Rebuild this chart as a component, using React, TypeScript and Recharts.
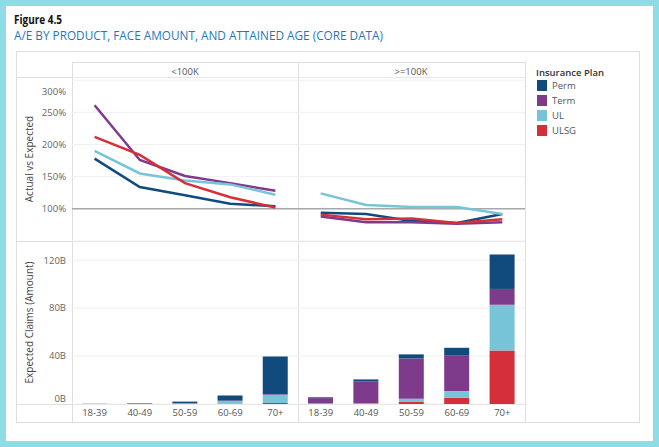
import React from 'react';
import { LineChart, Line, BarChart, Bar, XAxis, YAxis, CartesianGrid, ReferenceLine } from 'recharts';

// ---------- data ----------
const ageBands = ['18-39', '40-49', '50-59', '60-69', '70+'];
const plans = ['Perm', 'Term', 'UL', 'ULSG'];
const planColors = ['#114a7c', '#7f3b8b', '#77c4d8', '#d52f39'];
const faceGroups = ['<100K', '>=100K'];

// A/E ratio (%), face amount < 100K
const aePermLow = [178, 134, 121, 108, 104];
const aeTermLow = [261, 176, 151, 140, 128];
const aeULLow = [190, 155, 144, 138, 122];
const aeULSGLow = [212, 184, 140, 118, 102];

// A/E ratio (%), face amount >= 100K
const aePermHigh = [94, 92, 81, 78, 92];
const aeTermHigh = [88, 79, 79, 77, 79];
const aeULHigh = [124, 106, 103, 103, 92];
const aeULSGHigh = [91, 84, 85, 78, 84];

// Expected claims (billions), face amount < 100K
const ecPermLow = [0.05, 0.2, 1.2, 4.2, 31.5];
const ecTermLow = [0.05, 0.3, 0.3, 0.4, 0.4];
const ecULLow = [0.05, 0.2, 0.4, 2.2, 7.0];
const ecULSGLow = [0.05, 0.05, 0.1, 0.3, 0.8];

// Expected claims (billions), face amount >= 100K
const ecPermHigh = [0.7, 1.7, 3.4, 6.3, 28.7];
const ecTermHigh = [4.4, 18.0, 33.6, 29.8, 13.2];
const ecULHigh = [0.4, 0.3, 2.7, 5.5, 38.1];
const ecULSGHigh = [0.1, 0.5, 1.7, 5.3, 44.7];

const aeTicks = [50, 100, 150, 200, 250, 300];
const ecTicks = [0, 40, 80, 120];

// ---------- tables ----------
const buildTable = (series: number[][]) =>
  ageBands.map((age, i) => {
    const row: Record<string, any> = { age };
    plans.forEach((p, k) => {
      row[p] = series[k][i];
    });
    return row;
  });

const aeLow = buildTable([aePermLow, aeTermLow, aeULLow, aeULSGLow]);
const aeHigh = buildTable([aePermHigh, aeTermHigh, aeULHigh, aeULSGHigh]);
const ecLow = buildTable([ecPermLow, ecTermLow, ecULLow, ecULSGLow]);
const ecHigh = buildTable([ecPermHigh, ecTermHigh, ecULHigh, ecULSGHigh]);

const FONT = '"Open Sans", "Noto Sans", sans-serif';
const TICK_COLOR = '#666';
const GRID = '#f0f0f0';
const FRAME = '#dedede';

const makeYTick = (fmt: (v: number) => string, nudge: Record<number, number>) => (props: any) => {
  const { x, y, payload } = props;
  const n = nudge[payload.value] ?? 0;
  return (
    <text x={x} y={y + n} dy="0.35em" textAnchor="end" fontSize={9.5} fill={TICK_COLOR} fontFamily={FONT}>
      {fmt(payload.value)}
    </text>
  );
};

const aeTick = makeYTick((v) => `${v}%`, { 300: 6, 50: -5 });
const ecTick = makeYTick((v) => `${v}B`, { 0: -5 });

const axisTitleStyle = { fontSize: 10, fill: '#444', fontFamily: FONT };

const LinePanel = ({ data, showAxis, width }: { data: any[]; showAxis: boolean; width: number }) => {
  const plotW = width - (showAxis ? 56 : 0);
  const pad = plotW / (ageBands.length * 2);
  return (
    <LineChart width={width} height={164} data={data} margin={{ top: 0, right: 0, bottom: 0, left: 0 }}>
      <CartesianGrid vertical={false} stroke={GRID} />
      <XAxis dataKey="age" hide padding={{ left: pad, right: pad }} />
      <YAxis
        domain={[50, 305]}
        ticks={aeTicks}
        allowDataOverflow
        hide={!showAxis}
        width={56}
        axisLine={false}
        tickLine={false}
        tickSize={0}
        tickMargin={6}
        tick={aeTick}
        label={showAxis ? { value: 'Actual vs Expected', angle: -90, position: 'center', dx: -15, style: axisTitleStyle } : undefined}
      />
      <ReferenceLine y={100} stroke="#a8a8a8" strokeWidth={1.5} />
      {plans.map((p, k) => (
        <Line
          key={p}
          dataKey={p}
          type="linear"
          stroke={planColors[k]}
          strokeWidth={2.5}
          dot={false}
          activeDot={false}
          isAnimationActive={false}
        />
      ))}
    </LineChart>
  );
};

const stackOrder = [3, 2, 1, 0]; // ULSG at bottom, Perm on top

const BarPanel = ({ data, showAxis, width }: { data: any[]; showAxis: boolean; width: number }) => (
  <BarChart width={width} height={181} data={data} margin={{ top: 0, right: 0, bottom: 0, left: 0 }} barCategoryGap="22%">
    <CartesianGrid vertical={false} stroke={GRID} />
    <XAxis
      dataKey="age"
      height={18}
      interval={0}
      axisLine={false}
      tickLine={false}
      tickSize={0}
      tickMargin={5}
      tick={{ fontSize: 9.5, fill: '#555', fontFamily: FONT }}
    />
    <YAxis
      domain={[0, 136]}
      ticks={ecTicks}
      allowDataOverflow
      hide={!showAxis}
      width={56}
      axisLine={false}
      tickLine={false}
      tickSize={0}
      tickMargin={6}
      tick={ecTick}
      label={showAxis ? { value: 'Expected Claims (Amount)', angle: -90, position: 'center', dx: -15, style: axisTitleStyle } : undefined}
    />
    {stackOrder.map((k) => (
      <Bar key={plans[k]} dataKey={plans[k]} stackId="claims" fill={planColors[k]} isAnimationActive={false} />
    ))}
  </BarChart>
);

const abs = (left: number, top: number): React.CSSProperties => ({ position: 'absolute', left, top });

export default function App() {
  return (
    <div style={{ position: 'absolute', left: 0, top: 0, width: 659, height: 447, background: '#8edce5', fontFamily: FONT, overflow: 'hidden' }}>
      <div style={{ position: 'absolute', left: 6, top: 6, width: 647, height: 435, background: '#ffffff' }} />

      {/* titles */}
      <svg style={abs(0, 0)} width={659} height={50}>
        <text x={14} y={24} fontSize={12} fontWeight={700} fill="#111" fontFamily={FONT} textLength={48} lengthAdjust="spacingAndGlyphs">
          Figure 4.5
        </text>
        <text x={14} y={40} fontSize={12.5} fill="#1f78b8" fontFamily={FONT} textLength={369} lengthAdjust="spacingAndGlyphs">
          A/E BY PRODUCT, FACE AMOUNT, AND ATTAINED AGE (CORE DATA)
        </text>
      </svg>

      {/* frame */}
      <svg style={abs(0, 0)} width={659} height={447}>
        <rect x={16.5} y={51.5} width={623} height={371} fill="none" stroke={FRAME} />
        <line x1={72.5} y1={62} x2={72.5} y2={422} stroke={FRAME} />
        <line x1={298.5} y1={62} x2={298.5} y2={422} stroke={FRAME} />
        <line x1={525.5} y1={62} x2={525.5} y2={422} stroke={FRAME} />
        <line x1={72} y1={62.5} x2={525} y2={62.5} stroke={FRAME} />
        <line x1={16} y1={77.5} x2={525} y2={77.5} stroke={FRAME} />
        <line x1={16} y1={241.5} x2={525} y2={241.5} stroke={FRAME} />
        <line x1={16} y1={404.5} x2={525} y2={404.5} stroke={FRAME} />
        <text x={185} y={72} dy="0.35em" textAnchor="middle" fontSize={9.5} fill="#555" fontFamily={FONT}>
          {faceGroups[0]}
        </text>
        <text x={411} y={72} dy="0.35em" textAnchor="middle" fontSize={9.5} fill="#555" fontFamily={FONT}>
          {faceGroups[1]}
        </text>
      </svg>

      <div style={abs(16, 77)}>
        <LinePanel data={aeLow} showAxis width={282} />
      </div>
      <div style={abs(298, 77)}>
        <LinePanel data={aeHigh} showAxis={false} width={227} />
      </div>
      <div style={abs(16, 241)}>
        <BarPanel data={ecLow} showAxis width={282} />
      </div>
      <div style={abs(298, 241)}>
        <BarPanel data={ecHigh} showAxis={false} width={227} />
      </div>

      {/* legend */}
      <div style={{ ...abs(536, 66), fontSize: 9.5, color: '#333', fontWeight: 600, whiteSpace: 'nowrap' }}>Insurance Plan</div>
      {plans.map((p, k) => (
        <div key={p} style={{ ...abs(537, 80 + k * 15), display: 'flex', alignItems: 'center', height: 11 }}>
          <div style={{ width: 10, height: 11, background: planColors[k] }} />
          <span style={{ marginLeft: 5, fontSize: 9.5, color: '#555', lineHeight: '11px' }}>{p}</span>
        </div>
      ))}
    </div>
  );
}
